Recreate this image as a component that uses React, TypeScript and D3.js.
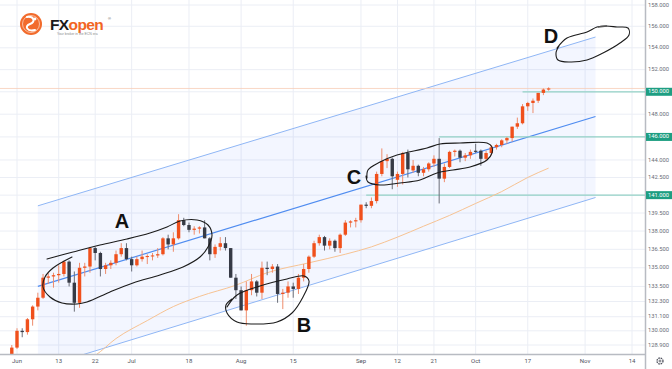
import React, { useEffect, useRef } from 'react'
import * as d3 from 'd3'

const WIDTH = 672
const HEIGHT = 369
const PLOT_RIGHT = 645
const PLOT_BOTTOM = 354

// daily candles: date, open, high, low, close
const candles: [string, number, number, number, number][] = [
  ['2022-05-31', 127.6, 128.9, 127.5, 128.7],
  ['2022-06-01', 128.7, 130.2, 128.6, 130.0],
  ['2022-06-02', 130.0, 130.2, 129.5, 129.9],
  ['2022-06-03', 129.9, 131.0, 129.7, 130.9],
  ['2022-06-06', 130.9, 132.0, 130.4, 131.9],
  ['2022-06-07', 131.9, 133.0, 131.6, 132.6],
  ['2022-06-08', 132.6, 134.5, 132.5, 134.2],
  ['2022-06-09', 134.2, 134.6, 133.7, 134.3],
  ['2022-06-10', 134.3, 134.6, 133.4, 134.4],
  ['2022-06-13', 134.4, 135.2, 133.8, 134.5],
  ['2022-06-14', 134.5, 135.6, 134.3, 135.5],
  ['2022-06-15', 135.5, 135.6, 133.5, 133.8],
  ['2022-06-16', 133.8, 134.7, 131.5, 132.2],
  ['2022-06-17', 132.2, 135.4, 131.8, 135.0],
  ['2022-06-20', 135.0, 135.4, 134.3, 135.1],
  ['2022-06-21', 135.1, 136.7, 134.6, 136.6],
  ['2022-06-22', 136.6, 136.7, 135.6, 136.2],
  ['2022-06-23', 136.2, 136.3, 134.3, 134.9],
  ['2022-06-24', 134.9, 135.4, 134.5, 135.2],
  ['2022-06-27', 135.2, 135.6, 134.9, 135.4],
  ['2022-06-28', 135.4, 136.4, 135.2, 136.1],
  ['2022-06-29', 136.1, 137.0, 135.9, 136.6],
  ['2022-06-30', 136.6, 137.0, 135.6, 135.7],
  ['2022-07-01', 135.7, 135.9, 134.7, 135.2],
  ['2022-07-04', 135.2, 135.9, 135.1, 135.7],
  ['2022-07-05', 135.7, 136.4, 135.5, 135.9],
  ['2022-07-06', 135.9, 136.1, 135.3, 135.95],
  ['2022-07-07', 135.95, 136.2, 135.6, 136.0],
  ['2022-07-08', 136.0, 136.6, 135.8, 136.1],
  ['2022-07-11', 136.1, 137.5, 136.0, 137.4],
  ['2022-07-12', 137.4, 137.7, 136.5, 136.9],
  ['2022-07-13', 136.9, 137.9, 136.3, 137.4],
  ['2022-07-14', 137.4, 139.4, 137.3, 138.9],
  ['2022-07-15', 138.9, 139.1, 138.4, 138.5],
  ['2022-07-18', 138.5, 138.7, 137.9, 138.1],
  ['2022-07-19', 138.1, 138.4, 137.7, 138.2],
  ['2022-07-20', 138.2, 138.4, 137.8, 138.3],
  ['2022-07-21', 138.3, 138.9, 137.4, 137.4],
  ['2022-07-22', 137.4, 137.5, 135.6, 136.1],
  ['2022-07-25', 136.1, 136.9, 135.8, 136.7],
  ['2022-07-26', 136.7, 137.5, 136.4, 137.0],
  ['2022-07-27', 137.0, 137.5, 136.4, 136.6],
  ['2022-07-28', 136.6, 136.6, 134.2, 134.2],
  ['2022-07-29', 134.2, 134.5, 132.5, 133.2],
  ['2022-08-01', 133.2, 133.5, 131.6, 131.6],
  ['2022-08-02', 131.6, 133.9, 130.4, 133.2],
  ['2022-08-03', 133.2, 134.5, 132.8, 133.9],
  ['2022-08-04', 133.9, 134.0, 132.7, 133.0],
  ['2022-08-05', 133.0, 135.5, 132.5, 135.0],
  ['2022-08-08', 135.0, 135.5, 134.4, 134.9],
  ['2022-08-09', 134.9, 135.3, 134.6, 135.1],
  ['2022-08-10', 135.1, 135.3, 132.2, 132.9],
  ['2022-08-11', 132.9, 133.3, 131.7, 133.0],
  ['2022-08-12', 133.0, 133.9, 132.6, 133.5],
  ['2022-08-15', 133.5, 133.8, 132.6, 133.3],
  ['2022-08-16', 133.3, 134.5, 132.9, 134.2],
  ['2022-08-17', 134.2, 135.3, 133.9, 134.9],
  ['2022-08-18', 134.9, 136.0, 134.6, 135.9],
  ['2022-08-19', 135.9, 137.2, 135.8, 137.0],
  ['2022-08-22', 137.0, 137.7, 136.8, 137.5],
  ['2022-08-23', 137.5, 137.6, 136.4, 136.8],
  ['2022-08-24', 136.8, 137.4, 136.5, 137.2],
  ['2022-08-25', 137.2, 137.3, 136.3, 136.6],
  ['2022-08-26', 136.6, 137.8, 136.2, 137.7],
  ['2022-08-29', 137.7, 138.9, 137.6, 138.7],
  ['2022-08-30', 138.7, 138.9, 138.3, 138.8],
  ['2022-08-31', 138.8, 139.1, 138.3, 138.9],
  ['2022-09-01', 138.9, 140.2, 138.7, 140.2],
  ['2022-09-02', 140.2, 140.4, 139.9, 140.1],
  ['2022-09-05', 140.1, 140.8, 139.9, 140.5],
  ['2022-09-06', 140.5, 143.0, 140.3, 142.8],
  ['2022-09-07', 142.8, 145.0, 142.6, 143.9],
  ['2022-09-08', 143.9, 144.5, 143.3, 144.1],
  ['2022-09-09', 144.1, 144.2, 141.5, 142.6],
  ['2022-09-12', 142.3, 143.0, 141.7, 142.8],
  ['2022-09-13', 142.8, 144.7, 141.9, 144.6],
  ['2022-09-14', 144.6, 144.9, 142.5, 143.2],
  ['2022-09-15', 143.1, 144.0, 142.9, 143.5],
  ['2022-09-16', 143.5, 143.6, 142.6, 142.9],
  ['2022-09-19', 142.9, 143.4, 142.6, 143.2],
  ['2022-09-20', 143.2, 143.8, 143.0, 143.7],
  ['2022-09-21', 143.7, 144.4, 143.4, 144.1],
  ['2022-09-22', 144.1, 145.9, 140.3, 142.4],
  ['2022-09-23', 142.4, 143.7, 142.1, 143.4],
  ['2022-09-26', 143.4, 144.8, 143.3, 144.7],
  ['2022-09-27', 144.7, 144.9, 144.3, 144.8],
  ['2022-09-28', 144.8, 144.9, 143.8, 144.2],
  ['2022-09-29', 144.2, 144.6, 143.9, 144.4],
  ['2022-09-30', 144.4, 144.9, 144.1, 144.7],
  ['2022-10-03', 144.8, 145.4, 144.6, 144.7],
  ['2022-10-04', 144.8, 144.9, 143.5, 144.1],
  ['2022-10-05', 144.1, 144.8, 143.9, 144.6],
  ['2022-10-06', 144.6, 145.3, 144.4, 145.1],
  ['2022-10-07', 145.1, 145.4, 144.9, 145.3],
  ['2022-10-10', 145.3, 145.8, 145.1, 145.7],
  ['2022-10-11', 145.7, 146.0, 145.4, 145.9],
  ['2022-10-12', 145.9, 146.9, 145.6, 146.9],
  ['2022-10-13', 146.9, 147.7, 146.7, 147.2],
  ['2022-10-14', 147.2, 148.9, 147.1, 148.7],
  ['2022-10-17', 148.7, 149.1, 148.3, 149.0],
  ['2022-10-18', 149.0, 149.4, 148.1, 149.2],
  ['2022-10-19', 149.2, 149.9, 149.0, 149.9],
  ['2022-10-20', 149.9, 150.3, 149.7, 150.2],
  ['2022-10-21', 150.2, 150.4, 150.1, 150.3],
]

// moving average
const maDates = ['2022-06-15', '2022-06-22', '2022-06-28', '2022-07-06', '2022-07-13', '2022-07-20', '2022-07-29', '2022-08-08', '2022-08-18', '2022-08-29', '2022-09-05', '2022-09-12', '2022-09-19', '2022-09-26', '2022-10-03', '2022-10-10', '2022-10-17', '2022-10-21']
const maValues = [127.3, 128.1, 129.4, 130.8, 131.9, 132.7, 133.6, 134.6, 135.4, 136.1, 136.7, 137.5, 138.4, 139.3, 140.3, 141.3, 142.5, 143.3]

// regression channel end points
const channelDates = ['2022-06-07', '2022-11-03']
const channelUpper = [140.1, 155.0]
const channelMid = [133.5, 147.8]
const channelLower = [127.1, 140.8]

// horizontal levels
const levelPrices = [150, 146, 141]
const levelStarts = ['2022-10-14', '2022-09-22', '2022-09-02']
const lastPrice = 150.3

const priceTicks = [158, 156, 154, 152, 148, 144, 142.5, 139.5, 138, 136.5, 135, 133.5, 132.3, 131.1, 130, 128.9]
const gridPrices = [158, 156, 154, 152, 150, 148, 146, 144, 142.5, 141, 139.5, 138, 136.5, 135, 133.5, 132.3, 131.1, 130, 128.9]
const xTickDates = ['2022-06-01', '2022-06-13', '2022-06-22', '2022-07-01', '2022-07-18', '2022-08-01', '2022-08-15', '2022-09-01', '2022-09-12', '2022-09-21', '2022-10-03', '2022-10-17', '2022-11-01', '2022-11-14']
const xTickLabels = ['Jun', '13', '22', 'Jul', '18', 'Aug', '15', 'Sep', '12', '21', 'Oct', '17', 'Nov', '14']

// hand drawn marks (screen drawing layer)
const loopA: [number, number][] = [[47, 259], [73, 252], [100, 245], [127, 239], [150, 233], [167, 227], [180, 221], [197, 220], [208, 225], [212, 235], [208, 247], [200, 257], [183, 267], [160, 275], [133, 283], [110, 292], [87, 302], [77, 304], [62, 303], [50, 297], [43, 287], [45, 277], [53, 268], [72, 257]]
const loopB: [number, number][] = [[227, 307], [237, 295], [260, 286], [287, 279], [304, 276], [309, 281], [303, 297], [292, 313], [277, 322], [253, 324], [237, 322], [227, 313], [226, 305], [232, 299]]
const loopC: [number, number][] = [[367, 178], [368, 170], [380, 162], [397, 155], [427, 148], [440, 144], [460, 143], [487, 143], [492, 147], [492, 153], [487, 160], [470, 167], [453, 170], [437, 173], [420, 180], [400, 183], [380, 185], [368, 182], [366, 176]]
const loopD: [number, number][] = [[557, 48], [567, 38], [587, 32], [597, 27], [606, 26], [617, 27], [628, 28], [629, 35], [620, 43], [603, 53], [587, 60], [570, 62], [558, 60], [556, 53], [559, 46]]
const letters = [['A', 122, 228], ['B', 304, 332], ['C', 354, 184], ['D', 551, 43]]

const UP = '#f0501c'
const DOWN = '#363a45'

export default function App() {
  const ref = useRef<SVGSVGElement>(null)

  useEffect(() => {
    const svg = d3.select(ref.current)
    svg.selectAll('*').remove()

    // trading day index (weekdays only)
    const fmt = d3.utcFormat('%Y-%m-%d')
    const days = d3.utcDay.range(new Date(Date.UTC(2022, 4, 30)), new Date(Date.UTC(2022, 10, 20)))
      .filter(d => d.getUTCDay() !== 0 && d.getUTCDay() !== 6)
    const dayIndex = new Map(days.map((d, i) => [fmt(d), i]))
    const idx = (s: string) => dayIndex.get(s) as number

    const x = d3.scaleLinear().domain([idx('2022-06-01'), idx('2022-11-14')]).range([17, 632])
    const y = d3.scaleLog().domain([158, 128.9]).range([5, 345])
    const xd = (s: string) => x(idx(s))

    svg.append('rect').attr('width', WIDTH).attr('height', HEIGHT).attr('fill', '#ffffff')

    svg.append('defs').append('clipPath').attr('id', 'plot')
      .append('rect').attr('width', PLOT_RIGHT).attr('height', PLOT_BOTTOM)

    const g = svg.append('g').attr('clip-path', 'url(#plot)')

    // grid
    g.selectAll('.hg').data(gridPrices).enter().append('line')
      .attr('x1', 0).attr('x2', PLOT_RIGHT)
      .attr('y1', d => y(d)).attr('y2', d => y(d))
      .attr('stroke', '#ebeef5').attr('stroke-width', 1)
    g.selectAll('.vg').data(xTickDates).enter().append('line')
      .attr('x1', d => xd(d)).attr('x2', d => xd(d))
      .attr('y1', 0).attr('y2', PLOT_BOTTOM)
      .attr('stroke', '#ebeef5').attr('stroke-width', 1)

    // channel
    const cx0 = xd(channelDates[0]), cx1 = xd(channelDates[1])
    g.append('path')
      .attr('d', `M${cx0},${y(channelUpper[0])}L${cx1},${y(channelUpper[1])}L${cx1},${y(channelLower[1])}L${cx0},${y(channelLower[0])}Z`)
      .attr('fill', 'rgba(41,98,255,0.055)')
    const chLine = (vals: number[], color: string, w: number) => {
      g.append('line')
        .attr('x1', cx0).attr('y1', y(vals[0]))
        .attr('x2', cx1).attr('y2', y(vals[1]))
        .attr('stroke', color).attr('stroke-width', w)
    }
    chLine(channelUpper, '#8fb6f5', 1)
    chLine(channelLower, '#8fb6f5', 1)
    chLine(channelMid, '#4f8cf0', 1.2)

    // last price line
    g.append('line').attr('x1', 0).attr('x2', PLOT_RIGHT)
      .attr('y1', y(lastPrice)).attr('y2', y(lastPrice))
      .attr('stroke', '#f8cdb6').attr('stroke-width', 0.8)

    // levels
    levelPrices.forEach((p, i) => {
      g.append('line')
        .attr('x1', xd(levelStarts[i])).attr('x2', PLOT_RIGHT)
        .attr('y1', y(p)).attr('y2', y(p))
        .attr('stroke', '#93d2c6').attr('stroke-width', 1.2)
    })

    // moving average
    const ma = d3.line<number>()
      .x((d, i) => xd(maDates[i]))
      .y(d => y(d))
      .curve(d3.curveMonotoneX)
    g.append('path').attr('d', ma(maValues))
      .attr('fill', 'none').attr('stroke', '#f7c393').attr('stroke-width', 1)

    // candles
    const bw = 3.4
    const c = g.selectAll('.candle').data(candles).enter().append('g')
    c.append('line')
      .attr('x1', d => xd(d[0])).attr('x2', d => xd(d[0]))
      .attr('y1', d => y(d[2])).attr('y2', d => y(d[3]))
      .attr('stroke', d => d[4] >= d[1] ? '#ee8c6c' : '#6b6e78').attr('stroke-width', 1)
    c.append('rect')
      .attr('x', d => xd(d[0]) - bw / 2)
      .attr('width', bw)
      .attr('y', d => y(Math.max(d[1], d[4])))
      .attr('height', d => Math.max(1, y(Math.min(d[1], d[4])) - y(Math.max(d[1], d[4]))))
      .attr('fill', d => d[4] >= d[1] ? UP : DOWN)

    // hand drawn loops
    const loop = d3.line().curve(d3.curveCatmullRom.alpha(0.5))
    ;[loopA, loopB, loopC, loopD].forEach(pts => {
      g.append('path').attr('d', loop(pts))
        .attr('fill', 'none').attr('stroke', '#1b1b1b').attr('stroke-width', 1.1)
        .attr('stroke-linecap', 'round')
    })
    g.append('line').attr('x1', 598).attr('y1', 27).attr('x2', 607).attr('y2', 26)
      .attr('stroke', '#555').attr('stroke-width', 1.5)
    g.selectAll('.letter').data(letters).enter().append('text')
      .attr('x', d => d[1]).attr('y', d => d[2])
      .attr('text-anchor', 'middle')
      .attr('font-family', 'Liberation Sans, Arial, sans-serif')
      .attr('font-weight', 'bold').attr('font-size', 20)
      .attr('fill', '#111')
      .text(d => d[0] as string)

    // axes
    svg.append('line').attr('x1', 0).attr('x2', PLOT_RIGHT)
      .attr('y1', PLOT_BOTTOM + 0.5).attr('y2', PLOT_BOTTOM + 0.5)
      .attr('stroke', '#b8bbc2').attr('stroke-width', 1.5)
    svg.append('line').attr('x1', PLOT_RIGHT + 0.5).attr('x2', PLOT_RIGHT + 0.5)
      .attr('y1', 0).attr('y2', HEIGHT)
      .attr('stroke', '#b8bbc2').attr('stroke-width', 1.5)

    svg.selectAll('.xt').data(xTickDates).enter().append('text')
      .attr('x', d => xd(d)).attr('y', 361)
      .attr('text-anchor', 'middle').attr('dominant-baseline', 'middle')
      .attr('font-family', 'Roboto, sans-serif').attr('font-size', 6)
      .attr('fill', '#50535e')
      .text((d, i) => xTickLabels[i])

    svg.selectAll('.yt').data(priceTicks).enter().append('text')
      .attr('x', 648).attr('y', d => y(d))
      .attr('dominant-baseline', 'middle')
      .attr('font-family', 'Roboto, sans-serif').attr('font-size', 5.8)
      .attr('fill', '#6a6d78')
      .text(d => d.toFixed(3))

    levelPrices.forEach(p => {
      svg.append('rect').attr('x', PLOT_RIGHT + 1).attr('y', y(p) - 4)
        .attr('width', 26).attr('height', 8).attr('fill', '#1e9e82')
      svg.append('text').attr('x', 648).attr('y', y(p))
        .attr('dominant-baseline', 'middle')
        .attr('font-family', 'Roboto, sans-serif').attr('font-size', 5.8)
        .attr('fill', '#ffffff').text(p.toFixed(3))
    })

    // settings gear
    svg.append('circle').attr('cx', 660).attr('cy', 361).attr('r', 3)
      .attr('fill', 'none').attr('stroke', '#50535e').attr('stroke-width', 1.3)
      .attr('stroke-dasharray', '1.6 0.8')
    svg.append('circle').attr('cx', 660).attr('cy', 361).attr('r', 1)
      .attr('fill', 'none').attr('stroke', '#50535e').attr('stroke-width', 0.8)

    // logo
    const logo = svg.append('g')
    logo.append('circle').attr('cx', 31).attr('cy', 24).attr('r', 11).attr('fill', '#f26b2c')
    logo.append('circle').attr('cx', 31).attr('cy', 24).attr('r', 8.5)
      .attr('fill', 'none').attr('stroke', '#fbd2bd').attr('stroke-width', 0.8)
    logo.append('path').attr('d', 'M27,17 C34,16 36,22 30,24 C24,26 27,32 35,30')
      .attr('fill', 'none').attr('stroke', '#ffffff').attr('stroke-width', 2).attr('stroke-linecap', 'round')
    logo.append('circle').attr('cx', 35).attr('cy', 19).attr('r', 1.4).attr('fill', '#ffffff')
    const brand = logo.append('text').attr('x', 50).attr('y', 29.5)
      .attr('font-family', 'Liberation Sans, Arial, sans-serif')
      .attr('font-weight', 'bold').attr('font-size', 15.5).attr('letter-spacing', -0.6)
    brand.append('tspan').attr('fill', '#1a1a1a').text('FX')
    brand.append('tspan').attr('fill', '#f26522').text('open')
    logo.append('text').attr('x', 108).attr('y', 20).attr('font-size', 4)
      .attr('font-family', 'Liberation Sans, Arial, sans-serif').attr('fill', '#555').text('®')
    logo.append('text').attr('x', 57).attr('y', 35).attr('font-size', 3.4)
      .attr('font-family', 'Liberation Sans, Arial, sans-serif').attr('fill', '#8a8a8a')
      .text('Your broker in the ECN era')
  }, [])

  return (
    <svg ref={ref} width={WIDTH} height={HEIGHT}
      style={{ position: 'absolute', left: 0, top: 0, display: 'block' }} />
  )
}
